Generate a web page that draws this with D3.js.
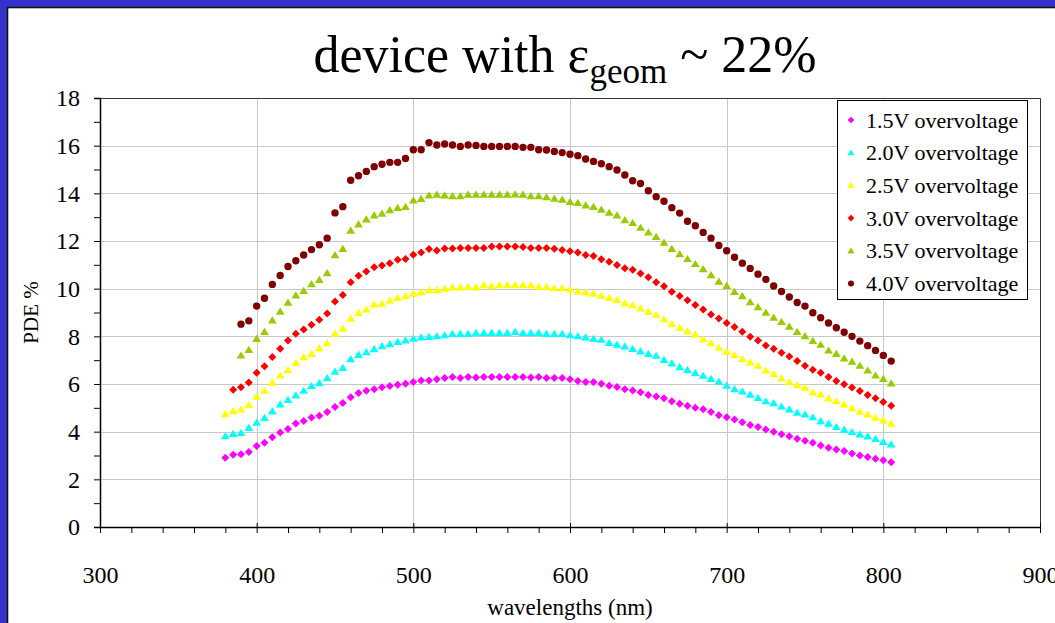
<!DOCTYPE html>
<html>
<head>
<meta charset="utf-8">
<script src="https://cdn.jsdelivr.net/npm/d3@7"></script>
<style>
  body { margin: 0; background: #fff; }
  svg text { font-family: "Liberation Serif", "Times New Roman", serif; fill: #000; }
  .grid line { stroke: #c8c8c8; stroke-width: 1; }
  .axis path { stroke: #000; stroke-width: 1.5; }
  .axis line { stroke: #000; stroke-width: 1; }
  .axis text { font-size: 24px; }
</style>
</head>
<body>
<div id="pde-chart"></div>
<script>
// wavelengths (nm) of the measured points
var wavelengths = [380,385,390,395,400,405,410,415,420,425,430,435,440,445,450,455,460,465,470,475,
    480,485,490,495,500,505,510,515,520,525,530,535,540,545,550,555,560,565,570,575,
    580,585,590,595,600,605,610,615,620,625,630,635,640,645,650,655,660,665,670,675,
    680,685,690,695,700,705,710,715,720,725,730,735,740,745,750,755,760,765,770,775,
    780,785,790,795,800,805];

// PDE % for each overvoltage (null = no point at that wavelength)
var pde15 = [2.91,3.03,3.05,3.15,3.40,3.54,3.77,3.96,4.11,4.34,4.45,4.59,4.67,4.83,5.04,5.20,5.44,5.62,5.72,5.78,
    5.86,5.92,5.97,6.01,6.08,6.15,6.15,6.20,6.25,6.29,6.25,6.29,6.27,6.29,6.29,6.29,6.29,6.29,6.29,6.27,
    6.29,6.25,6.25,6.25,6.20,6.13,6.08,6.08,6.01,5.93,5.87,5.78,5.73,5.65,5.54,5.48,5.40,5.28,5.17,5.09,
    5.00,4.94,4.83,4.69,4.61,4.51,4.39,4.28,4.20,4.09,4.00,3.89,3.81,3.70,3.62,3.53,3.42,3.33,3.25,3.19,
    3.08,3.00,2.94,2.86,2.80,2.72];
var pde20 = [3.82,3.91,3.95,4.16,4.38,4.58,4.86,5.15,5.34,5.53,5.72,5.92,6.04,6.25,6.52,6.68,7.05,7.23,7.34,7.47,
    7.59,7.68,7.77,7.83,7.91,7.96,7.98,8.01,8.05,8.11,8.11,8.11,8.15,8.15,8.15,8.15,8.15,8.19,8.15,8.15,
    8.15,8.11,8.11,8.11,8.05,8.01,7.96,7.90,7.86,7.73,7.66,7.58,7.48,7.37,7.27,7.19,7.02,6.87,6.71,6.60,
    6.46,6.35,6.22,6.10,5.94,5.79,5.69,5.56,5.42,5.28,5.20,5.06,4.94,4.80,4.73,4.61,4.45,4.34,4.20,4.09,
    3.99,3.89,3.81,3.70,3.58,3.47];
var pde25 = [4.74,4.87,4.94,5.13,5.47,5.73,6.06,6.36,6.60,6.89,7.13,7.27,7.51,7.72,8.12,8.33,8.75,8.99,9.13,9.34,
    9.38,9.51,9.62,9.70,9.80,9.85,9.94,9.95,10.01,10.06,10.06,10.08,10.06,10.15,10.11,10.15,10.15,10.15,10.15,10.15,
    10.08,10.08,10.03,10.03,9.97,9.89,9.85,9.80,9.71,9.62,9.53,9.39,9.31,9.18,9.04,8.91,8.72,8.53,8.36,8.21,
    8.09,7.89,7.72,7.53,7.36,7.22,7.06,6.91,6.77,6.57,6.43,6.24,6.08,5.96,5.85,5.65,5.57,5.40,5.28,5.15,
    4.98,4.84,4.73,4.59,4.48,4.34];
var pde30 = [null,5.76,5.86,6.06,6.47,6.75,7.13,7.48,7.82,8.11,8.29,8.49,8.70,8.96,9.46,9.73,10.27,10.54,10.72,10.90,
    10.97,11.07,11.21,11.25,11.42,11.52,11.66,11.60,11.69,11.69,11.71,11.71,11.71,11.71,11.77,11.77,11.77,11.77,11.75,11.71,
    11.71,11.71,11.67,11.62,11.57,11.52,11.41,11.37,11.23,11.13,10.99,10.86,10.79,10.64,10.48,10.27,10.10,9.87,9.69,9.51,
    9.31,9.13,8.92,8.75,8.56,8.39,8.19,7.98,7.82,7.62,7.48,7.31,7.15,6.96,6.77,6.60,6.47,6.29,6.13,5.99,
    5.85,5.71,5.54,5.40,5.25,5.09];
var pde35 = [null,null,7.20,7.44,7.90,8.19,8.67,9.04,9.42,9.72,9.91,10.19,10.37,10.66,11.41,11.67,12.44,12.70,12.91,13.08,
    13.15,13.30,13.39,13.43,13.71,13.77,13.92,13.95,13.92,13.89,13.89,13.95,13.95,13.95,13.95,13.95,13.95,13.96,13.95,13.89,
    13.89,13.84,13.78,13.74,13.65,13.60,13.50,13.44,13.32,13.19,13.08,12.88,12.76,12.56,12.36,12.18,11.94,11.67,11.45,11.25,
    11.04,10.82,10.57,10.30,10.12,9.87,9.69,9.44,9.23,9.00,8.79,8.61,8.41,8.19,8.01,7.81,7.65,7.41,7.27,7.08,
    6.94,6.77,6.57,6.36,6.22,6.03];
var pde40 = [null,null,8.51,8.65,9.27,9.60,10.18,10.55,10.93,11.17,11.41,11.64,11.84,12.12,13.18,13.44,14.55,14.74,14.92,15.12,
    15.22,15.30,15.30,15.46,15.83,15.83,16.13,16.03,16.07,16.03,15.97,16.03,16.01,15.97,15.97,15.97,15.97,15.97,15.93,15.93,
    15.83,15.82,15.76,15.71,15.64,15.58,15.44,15.34,15.24,15.12,14.98,14.77,14.53,14.41,14.11,13.86,13.67,13.40,13.17,12.83,
    12.64,12.36,12.12,11.81,11.59,11.32,11.07,10.85,10.61,10.39,10.11,9.88,9.65,9.42,9.27,8.99,8.78,8.56,8.36,8.17,
    8.00,7.80,7.61,7.41,7.20,6.96];

var seriesNames = ["1.5V overvoltage", "2.0V overvoltage", "2.5V overvoltage",
                   "3.0V overvoltage", "3.5V overvoltage", "4.0V overvoltage"];
var seriesValues = [pde15, pde20, pde25, pde30, pde35, pde40];
var seriesColors = ["#ff00ff", "#00ffff", "#ffff00", "#ff0000", "#99cc00", "#800000"];
var seriesShapes = ["diamond", "triangle", "triangle", "diamond", "triangle", "circle"];

var xTicks = [300, 400, 500, 600, 700, 800, 900];
var xMinorTicks = [320,340,360,380,420,440,460,480,520,540,560,580,620,640,660,680,720,740,760,780,820,840,860,880];
var yTicks = [0, 2, 4, 6, 8, 10, 12, 14, 16, 18];
var yMinorTicks = [1, 3, 5, 7, 9, 11, 13, 15, 17];

/**
 * Constructor for the PDE chart
 */
function PdeChart(){
    var self = this;
    self.init();
};

/**
 * Builds the svg, frame and scales
 */
PdeChart.prototype.init = function(){
    var self = this;
    self.width = 1055;
    self.height = 623;
    self.plot = {left: 100, right: 1040, top: 98, bottom: 527};

    self.svg = d3.select("#pde-chart").append("svg")
        .attr("width", self.width)
        .attr("height", self.height);

    //blue slide frame with the dark inner edge
    self.svg.append("rect")
        .attr("width", self.width).attr("height", self.height)
        .attr("fill", "#3333cc");
    self.svg.append("rect")
        .attr("x", 7.5).attr("y", 7.5)
        .attr("width", self.width + 20).attr("height", self.height + 20)
        .attr("fill", "#fff")
        .attr("stroke", "#111")
        .attr("stroke-width", 1.6);

    self.x = d3.scaleLinear().domain([300, 900]).range([self.plot.left, self.plot.right]);
    self.y = d3.scaleLinear().domain([0, 18]).range([self.plot.bottom, self.plot.top]);
};

/**
 * Returns the path of a marker
 */
PdeChart.prototype.markerPath = function(shape, s){
    if (shape == "diamond"){
        return "M0," + (-s) + "L" + s + ",0L0," + s + "L" + (-s) + ",0Z";
    }
    else if (shape == "triangle"){
        return "M0," + (-s) + "L" + (s * 1.1) + "," + (s * 0.8) + "L" + (-s * 1.1) + "," + (s * 0.8) + "Z";
    }
    else {
        return d3.symbol().type(d3.symbolCircle).size(Math.PI * s * s * 0.85)();
    }
};

/**
 * Draws grid, axes, points, titles and legend
 */
PdeChart.prototype.update = function(){
    var self = this;
    var svg = self.svg;
    var p = self.plot;

    //grid lines
    var grid = svg.append("g").attr("class", "grid");
    grid.selectAll(".hgrid").data(yTicks.filter(function(d){ return d > 0; }))
        .enter().append("line")
        .attr("x1", p.left).attr("x2", p.right)
        .attr("y1", function(d){ return Math.round(self.y(d)) + 0.5; })
        .attr("y2", function(d){ return Math.round(self.y(d)) + 0.5; });
    grid.selectAll(".vgrid").data(xTicks.filter(function(d){ return d > 300 && d < 900; }))
        .enter().append("line")
        .attr("y1", p.top).attr("y2", p.bottom)
        .attr("x1", function(d){ return Math.round(self.x(d)) + 0.5; })
        .attr("x2", function(d){ return Math.round(self.x(d)) + 0.5; });

    //plot area border (top and right)
    svg.append("path")
        .attr("d", "M" + p.left + "," + (p.top + 0.5) + "H" + (p.right + 0.5) + "V" + p.bottom)
        .attr("fill", "none")
        .attr("stroke", "#333")
        .attr("stroke-width", 1);

    //x axis
    var xAxis = svg.append("g").attr("class", "axis")
        .attr("transform", "translate(0," + p.bottom + ")")
        .call(d3.axisBottom(self.x).tickValues(xTicks).tickSizeOuter(0).tickSizeInner(6));
    xAxis.selectAll(".tick line").attr("y1", -4).attr("y2", 6);
    xAxis.selectAll(".tick text").attr("y", 56).attr("dy", 0);
    svg.append("g").attr("class", "axis")
        .attr("transform", "translate(0," + p.bottom + ")")
        .call(d3.axisBottom(self.x).tickValues(xMinorTicks).tickSizeOuter(0).tickSize(6).tickFormat(""))
        .select(".domain").remove();

    //y axis
    svg.append("g").attr("class", "axis")
        .attr("transform", "translate(" + p.left + ",0)")
        .call(d3.axisLeft(self.y).tickValues(yTicks).tickSizeOuter(0).tickSize(6).tickPadding(14));
    svg.append("g").attr("class", "axis")
        .attr("transform", "translate(" + p.left + ",0)")
        .call(d3.axisLeft(self.y).tickValues(yMinorTicks).tickSizeOuter(0).tickSize(6).tickFormat(""))
        .select(".domain").remove();

    //data points
    seriesValues.forEach(function(values, i){
        var pts = wavelengths.map(function(w, j){ return {x: w, y: values[j]}; })
            .filter(function(d){ return d.y != null; });
        svg.append("g").selectAll("path").data(pts)
            .enter().append("path")
            .attr("d", self.markerPath(seriesShapes[i], 4))
            .attr("transform", function(d){ return "translate(" + self.x(d.x) + "," + self.y(d.y) + ")"; })
            .attr("fill", seriesColors[i]);
    });

    //title
    var title = svg.append("text")
        .attr("x", 565).attr("y", 72)
        .attr("text-anchor", "middle")
        .style("font-size", "52px");
    title.append("tspan").text("device with ε");
    title.append("tspan").attr("dy", 11).style("font-size", "35px").text("geom");
    title.append("tspan").attr("dy", -11).text(" ~ 22%");

    //axis titles
    svg.append("text")
        .attr("x", (p.left + p.right) / 2).attr("y", 615)
        .attr("text-anchor", "middle")
        .style("font-size", "23px")
        .text("wavelengths (nm)");
    svg.append("text")
        .attr("transform", "translate(38," + ((p.top + p.bottom) / 2) + ") rotate(-90)")
        .attr("text-anchor", "middle")
        .style("font-size", "21px")
        .text("PDE %");

    //legend
    var legend = svg.append("g").attr("transform", "translate(837,100)");
    legend.append("rect")
        .attr("x", 0.5).attr("y", 0.5)
        .attr("width", 190).attr("height", 199)
        .attr("fill", "#fff")
        .attr("stroke", "#000")
        .attr("stroke-width", 1);
    var rows = legend.selectAll(".row").data(seriesNames)
        .enter().append("g")
        .attr("transform", function(d, i){ return "translate(0," + (20 + i * 32.7) + ")"; });
    rows.append("path")
        .attr("d", function(d, i){ return self.markerPath(seriesShapes[i], 3.3); })
        .attr("transform", "translate(14,0)")
        .attr("fill", function(d, i){ return seriesColors[i]; });
    rows.append("text")
        .attr("x", 29).attr("y", 7.5)
        .style("font-size", "22px")
        .text(function(d){ return d; });
};

var chart = new PdeChart();
chart.update();
</script>
</body>
</html>
